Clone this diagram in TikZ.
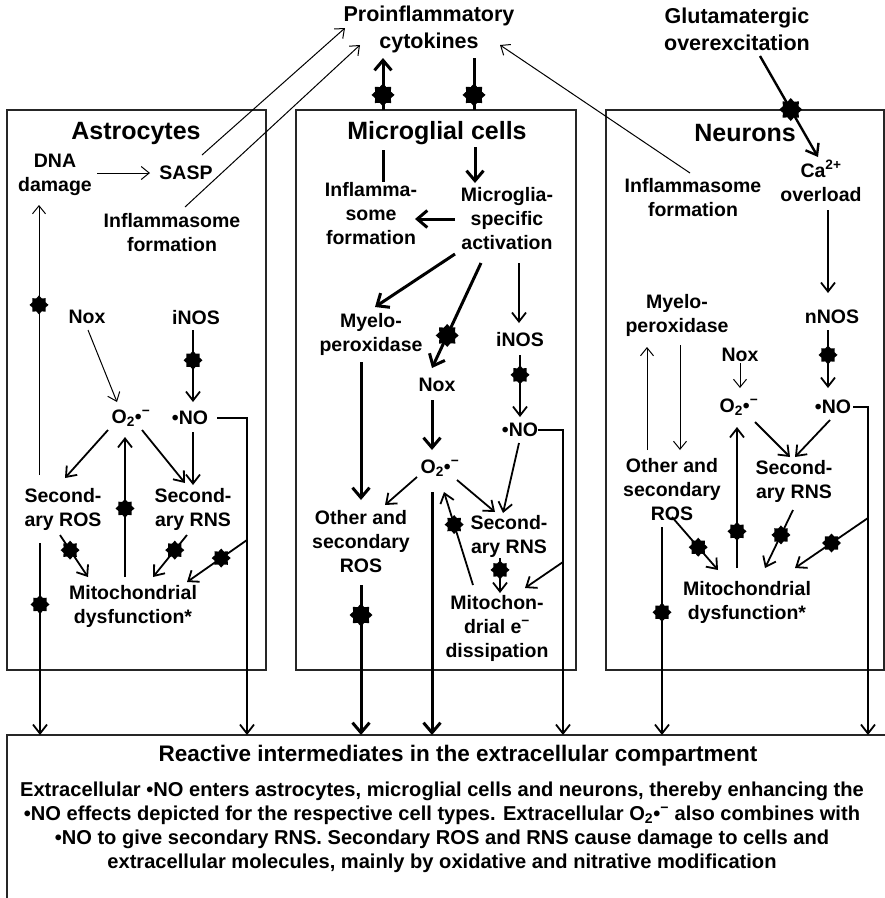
\documentclass[tikz,border=0pt]{standalone}
\usepackage{fontspec}
\setmainfont{Liberation Sans}
\usetikzlibrary{arrows.meta,shapes.geometric}
\begin{document}
\begin{tikzpicture}[x=1pt,y=-1pt,
  lbl/.style={font=\bfseries\fontsize{19.5}{24}\selectfont, align=center, inner sep=1pt},
  ttl/.style={font=\bfseries\fontsize{25}{30}\selectfont, inner sep=1pt},
  toplbl/.style={font=\bfseries\fontsize{21.5}{27}\selectfont, align=center, inner sep=1pt},
  cellbox/.style={draw=black!85, line width=1.3pt, inner sep=0pt, outer sep=0pt},
  thinl/.style={line width=1pt, -{Straight Barb[length=8pt,width=13pt]}},
  medl/.style={line width=1.8pt, -{Straight Barb[length=9pt,width=14pt]}},
  thickl/.style={line width=3pt, -{Straight Barb[length=10pt,width=17pt]}},
  bstar/.style={star, star points=8, star point ratio=1.35, fill=black, draw=none, inner sep=0pt, minimum size=19pt},
  bigstar/.style={bstar, minimum size=23pt},
]
\useasboundingbox (0,0) rectangle (885,898);

% ---------- top labels ----------
\node[toplbl] (cyto) at (429,29.5) {Proinflammatory\\cytokines};
\node[toplbl] (glut) at (737,29.5) {Glutamatergic\\overexcitation};

% ---------- boxes ----------
\node[cellbox, minimum width=259pt, minimum height=560pt] (abox) at (136.5,390) {};
\node[cellbox, minimum width=280pt, minimum height=560pt] (mbox) at (436,390) {};
\node[cellbox, minimum width=278pt, minimum height=560pt] (nbox) at (745,390) {};
\node[inner sep=0pt, outer sep=0pt, minimum width=890pt, minimum height=175pt, anchor=north west] (bbox) at (7,735) {};
\draw[line width=1.3pt, draw=black!85] (bbox.south west) -- (bbox.north west) -- (bbox.north east);

% ---------- Astrocytes ----------
\node[ttl] (atitle) at (136,133) {Astrocytes};
\node[lbl] (dna) at (55,175) {DNA\\damage};
\node[lbl] (sasp) at (186,173) {SASP};
\node[lbl] (ainfl) at (172,233) {Inflammasome\\formation};
\node[lbl] (anox) at (87,317) {Nox};
\node[lbl] (ainos) at (196,318) {iNOS};
\node[lbl] (ao2) at (131,418) {O\textsubscript{2}•\textsuperscript{−}};
\node[lbl] (ano) at (190,418) {•NO};
\node[lbl] (asros) at (63,509) {Second-\\ary ROS};
\node[lbl] (asrns) at (193,509) {Second-\\ary RNS};
\node[lbl] (amito) at (133,606) {Mitochondrial\\dysfunction*};

\draw[thinl] ([shift={(42,-2)}]dna.center) -- ([shift={(-36,0)}]sasp.center);
\draw[thinl] ([shift={(16,-18)}]sasp.center) -- ([shift={(-84,-1.5)}]cyto.center);
\draw[thinl] ([shift={(13,-26)}]ainfl.center) -- ([shift={(-69,15.5)}]cyto.center);
\draw[thinl] ([shift={(-24,-34)}]asros.center) -- node[bstar,pos=0.63]{} ([shift={(-16,30)}]dna.center);
\draw[thinl] ([shift={(1,13)}]anox.center) -- ([shift={(-14,-16)}]ao2.center);
\draw[medl] ([shift={(-3,12)}]ainos.center) -- node[bstar,pos=0.42]{} ([shift={(3,-16)}]ano.center);
\draw[medl] ([shift={(27,0)}]ano.center) -- ++(30,0) coordinate (aturn) -- (aturn |- bbox.north);
\draw[medl] ([shift={(-23,12)}]ao2.center) -- ([shift={(2,-31)}]asros.center);
\draw[medl] ([shift={(11,12)}]ao2.center) -- ([shift={(-8,-26)}]asrns.center);
\draw[medl] ([shift={(3,14)}]ano.center) -- ([shift={(0,-24)}]asrns.center);
\draw[medl] ([shift={(-8,-29)}]amito.center) -- node[bstar,pos=0.49]{} ([shift={(-6,19)}]ao2.center);
\draw[medl] ([shift={(-3,26)}]asros.center) -- node[bstar,pos=0.36]{} ([shift={(-45,-29)}]amito.center);
\draw[medl] ([shift={(-6,26)}]asrns.center) -- node[bstar,pos=0.36]{} ([shift={(20,-29)}]amito.center);
\draw[medl] ([shift={(0,122)}]aturn) -- node[bstar,pos=0.43]{} ([shift={(54,-24)}]amito.center);
\draw[medl] ([shift={(-23,34)}]asros.center) coordinate (asrosout) -- node[bstar,pos=0.32]{} (asrosout |- bbox.north);

% ---------- Microglial cells ----------
\node[ttl] (mtitle) at (437,133) {Microglial cells};
\node[lbl] (minfl) at (371,214) {Inflamma-\\some\\formation};
\node[lbl] (mact) at (507,219) {Microglia-\\specific\\activation};
\node[lbl] (mmyelo) at (371,334) {Myelo-\\peroxidase};
\node[lbl] (mnox) at (437,385) {Nox};
\node[lbl] (mino) at (520,340) {iNOS};
\node[lbl] (mno) at (520,430) {•NO};
\node[lbl] (mo2) at (440,468) {O\textsubscript{2}•\textsuperscript{−}};
\node[lbl] (mosros) at (361,542) {Other and\\secondary\\ROS};
\node[lbl] (msrns) at (509,536) {Second-\\ary RNS};
\node[lbl] (mmito) at (497,628) {Mitochon-\\drial e\textsuperscript{−}\\dissipation};

\draw[thickl] ([shift={(-53,0)}]mbox.north) -- node[bigstar,pos=0.29]{} ([shift={(-46,28.5)}]cyto.center);
\draw[thickl,-] ([shift={(45,28.5)}]cyto.center) -- node[bigstar,pos=0.71]{} ([shift={(38,0)}]mbox.north);
\draw[thickl,-] ([shift={(-54,17)}]mtitle.center) -- ([shift={(12,-32)}]minfl.center);
\draw[thickl] ([shift={(38,14)}]mtitle.center) -- ([shift={(-32,-36)}]mact.center);
\draw[thickl] ([shift={(-52,0)}]mact.center) -- ([shift={(44,5)}]minfl.center);
\draw[thickl] ([shift={(-52,35)}]mact.center) -- ([shift={(4,-27)}]mmyelo.center);
\draw[thickl] ([shift={(-26,44)}]mact.center) -- node[bigstar,pos=0.69]{} ([shift={(-5,-17)}]mnox.center);
\draw[medl] ([shift={(12,44)}]mact.center) -- ([shift={(-1,-17)}]mino.center);
\draw[medl] ([shift={(0,15)}]mino.center) -- node[bstar,pos=0.32]{} ([shift={(0,-13)}]mno.center);
\draw[medl] ([shift={(18,0)}]mno.center) -- ++(25,0) coordinate (mturn) -- (mturn |- bbox.north);
\draw[thickl] ([shift={(-5,15)}]mnox.center) -- ([shift={(-8,-18)}]mo2.center);
\draw[thickl] ([shift={(-10,28)}]mmyelo.center) -- ([shift={(0,-42)}]mosros.center);
\draw[medl] ([shift={(-23,9)}]mo2.center) -- ([shift={(24,-37)}]mosros.center);
\draw[medl] ([shift={(17,12)}]mo2.center) -- ([shift={(-14,-24)}]msrns.center);
\draw[medl] ([shift={(-1,13)}]mno.center) -- ([shift={(-6,-23)}]msrns.center);
\draw[medl] ([shift={(-24,-43)}]mmito.center) -- node[bstar,pos=0.65]{} ([shift={(4,24)}]mo2.center);
\draw[medl] ([shift={(-9,22)}]msrns.center) -- node[bstar,pos=0.34]{} ([shift={(3,-35)}]mmito.center);
\draw[medl] ([shift={(0,132)}]mturn) -- ([shift={(28,-40)}]mmito.center);
\draw[thickl] ([shift={(0,43)}]mosros.center) coordinate (mosout) -- node[bigstar,pos=0.2]{} (mosout |- bbox.north);
\draw[thickl] ([shift={(-8,24)}]mo2.center) coordinate (mo2out) -- (mo2out |- bbox.north);

% ---------- Neurons ----------
\node[ttl] (ntitle) at (745,133) {Neurons};
\node[lbl] (nca) at (821,181) {Ca\textsuperscript{2+}\\overload};
\node[lbl] (ninfl) at (693,198) {Inflammasome\\formation};
\node[lbl] (nnos) at (832,317) {nNOS};
\node[lbl] (nno) at (833,407) {•NO};
\node[lbl] (nmyelo) at (677,315) {Myelo-\\peroxidase};
\node[lbl] (nnox) at (740,355) {Nox};
\node[lbl] (no2) at (739,407) {O\textsubscript{2}•\textsuperscript{−}};
\node[lbl] (nosros) at (672,490) {Other and\\secondary\\ROS};
\node[lbl] (nsrns) at (794,481) {Second-\\ary RNS};
\node[lbl] (nmito) at (747,602) {Mitochondrial\\dysfunction*};

\draw[line width=2.4pt, -{Straight Barb[length=10pt,width=15pt]}] ([shift={(23,26.5)}]glut.center) -- node[bigstar,pos=0.53]{} ([shift={(-3,-24)}]nca.center);
\draw[thinl] ([shift={(-3,-25)}]ninfl.center) -- ([shift={(71,15.5)}]cyto.center);
\draw[medl] ([shift={(7,29)}]nca.center) -- ([shift={(-4,-24)}]nnos.center);
\draw[medl] ([shift={(-4,13)}]nnos.center) -- node[bstar,pos=0.43]{} ([shift={(-5,-19)}]nno.center);
\draw[medl] ([shift={(20,0)}]nno.center) -- ++(15,0) coordinate (nturn) -- (nturn |- bbox.north);
\draw[thinl] ([shift={(0,8)}]nnox.center) -- ([shift={(1,-19)}]no2.center);
\draw[thinl] ([shift={(-25,-40)}]nosros.center) -- ([shift={(-30,32)}]nmyelo.center);
\draw[thinl] ([shift={(3,30)}]nmyelo.center) -- ([shift={(8,-40)}]nosros.center);
\draw[medl] ([shift={(16,15)}]no2.center) -- ([shift={(-4,-24)}]nsrns.center);
\draw[medl] ([shift={(-3,13)}]nno.center) -- ([shift={(1,-24)}]nsrns.center);
\draw[medl] ([shift={(-10,-34)}]nmito.center) -- node[bstar,pos=0.26]{} ([shift={(-2,20)}]no2.center);
\draw[medl] ([shift={(0,27)}]nosros.center) -- node[bstar,pos=0.57]{} ([shift={(-29,-32)}]nmito.center);
\draw[medl] ([shift={(-1,29)}]nsrns.center) -- node[bstar,pos=0.43]{} ([shift={(18,-34)}]nmito.center);
\draw[medl] ([shift={(0,111)}]nturn) -- node[bstar,pos=0.5]{} ([shift={(48,-34)}]nmito.center);
\draw[medl] ([shift={(-10,37)}]nosros.center) coordinate (nosout) -- node[bstar,pos=0.41]{} (nosout |- bbox.north);

% ---------- bottom compartment ----------
\node[font=\bfseries\fontsize{22.5}{27}\selectfont, inner sep=1pt] (btitle) at (458,756) {Reactive intermediates in the extracellular compartment};
\node[font=\bfseries\fontsize{20.1}{24}\selectfont, align=center, inner sep=0pt] (btext) at (442,827)
 {Extracellular •NO enters astrocytes, microglial cells and neurons, thereby enhancing the\\
  •NO effects depicted for the respective cell types. Extracellular O\textsubscript{2}•\textsuperscript{−} also combines with\\
  •NO to give secondary RNS. Secondary ROS and RNS cause damage to cells and\\
  extracellular molecules, mainly by oxidative and nitrative modification};
\end{tikzpicture}
\end{document}
